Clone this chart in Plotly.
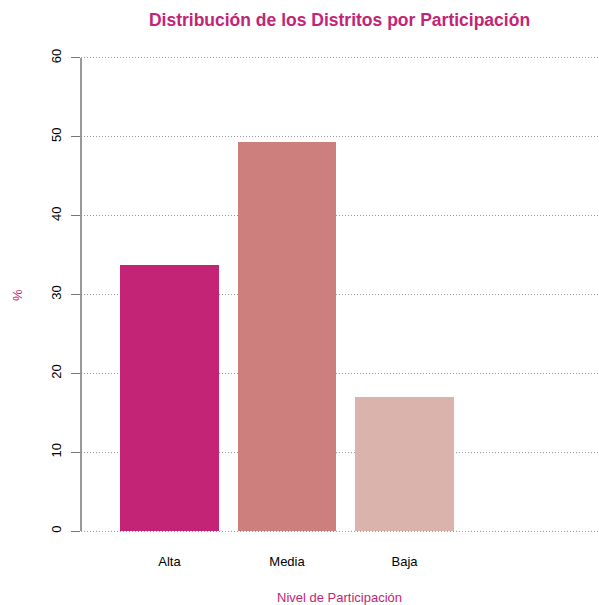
import plotly.graph_objects as go

categories = ["Alta", "Media", "Baja"]
values = [33.7, 49.4, 17.0]
bar_colors = ["#C42476", "#CC7F7D", "#DAB3AC"]
y_ticks = [0, 10, 20, 30, 40, 50, 60]

PINK = "#C42476"
FONT = "Liberation Sans, Arial, Helvetica, sans-serif"

W, H = 599, 605
L, R, T, B = 81, 1, 39, 55

fig = go.Figure()
fig.add_trace(go.Bar(
    x=categories, y=values,
    marker=dict(color=bar_colors, line=dict(width=0)),
    width=0.84,
    hoverinfo="x+y",
))

# plot region mapped to category units (first bar centre at 169.5 px, 117.5 px per category)
first_center_px = 169.5
px_per_cat = 117.5
xr0 = -(first_center_px - L) / px_per_cat
xr1 = ((W - R) - first_center_px) / px_per_cat

fig.update_layout(
    width=W, height=H,
    margin=dict(l=L, r=R, t=T, b=B, autoexpand=False),
    paper_bgcolor="white", plot_bgcolor="white",
    font=dict(family=FONT, size=13, color="black"),
    showlegend=False,
    bargap=0,
    title=dict(
        text="<b>Distribución de los Distritos por Participación</b>",
        x=(L + W - R) / 2 / W, xanchor="center",
        y=1 - 20 / H, yanchor="middle",
        font=dict(size=17.5, color=PINK, family=FONT),
    ),
    xaxis=dict(
        type="category",
        range=[xr0, xr1],
        showgrid=False, zeroline=False, showline=False,
        ticks="", tickfont=dict(size=13, color="black"),
        ticklabelstandoff=2,
        automargin=False,
        fixedrange=True,
    ),
    yaxis=dict(
        range=[-2.4, 62.4],
        tickvals=y_ticks,
        ticktext=[str(v) for v in y_ticks],
        tickangle=-90,
        ticks="outside", ticklen=9, tickcolor="#777777", tickwidth=1,
        ticklabelstandoff=5,
        showgrid=True, gridcolor="#999999", griddash="1px,2px", gridwidth=1,
        zeroline=False, showline=False,
        tickfont=dict(size=13, color="black"),
        automargin=False,
        fixedrange=True,
    ),
    annotations=[
        dict(text="Nivel de Participación", xref="paper", yref="paper",
             x=0.5, y=-(597 - (H - B)) / (H - T - B),
             xanchor="center", yanchor="middle", showarrow=False,
             font=dict(size=13, color=PINK)),
        dict(text="%", xref="paper", yref="paper",
             x=-(L - 17) / (W - L - R), y=(H - B - 295) / (H - T - B),
             xanchor="center", yanchor="middle", textangle=-90, showarrow=False,
             font=dict(size=13, color=PINK)),
    ],
)

# y axis line spanning only first to last tick (like R's axis())
fig.add_shape(
    type="line", xref="paper", yref="y",
    x0=0, x1=0, y0=y_ticks[0], y1=y_ticks[-1],
    line=dict(color="#777777", width=1.5),
    layer="above",
)

fig.write_html(
    "out.html",
    config={"displayModeBar": False},
    post_script="document.body.style.margin='0';document.body.style.overflow='hidden';",
)
